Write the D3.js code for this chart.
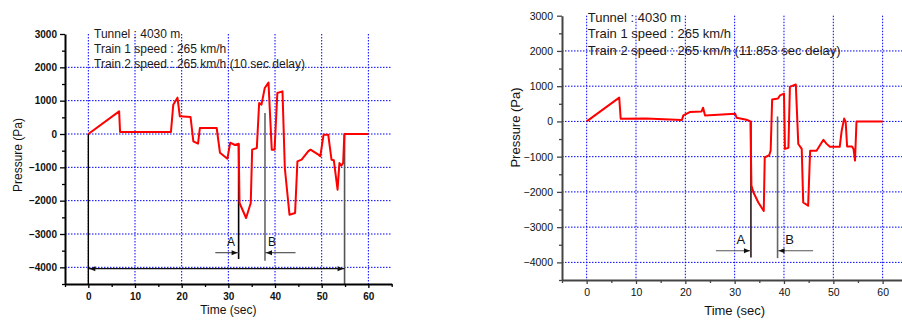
<!DOCTYPE html>
<html>
<head>
<meta charset="utf-8">
<script src="https://cdn.jsdelivr.net/npm/d3@7"></script>
<style>
  html, body { margin: 0; padding: 0; background: #fff; }
  svg { display: block; }
</style>
</head>
<body>
<div id="chart"></div>
<script>
// two pressure-time traces, Origin style, side by side

const timeTicks = [0, 10, 20, 30, 40, 50, 60];
const timeMinorTicks = [-5, 5, 15, 25, 35, 45, 55, 65];
const pressureTicks = [-4000, -3000, -2000, -1000, 0, 1000, 2000, 3000];
const pressureMinorTicks = [-4500, -3500, -2500, -1500, -500, 500, 1500, 2500];
const timeDomain = [-5, 65];
const pressureDomain = [-4500, 3000];

// left chart: 10 sec delay
const leftTime = [0, 6.6, 6.8, 17.7, 18.2, 19.1, 19.6, 21.9, 22.5, 23.5, 23.9, 27.5, 28.2, 29.8, 30.4, 31.4, 32.2,
  32.4, 33.8, 34.8, 35.1, 36.1, 36.6, 37.1, 37.8, 38.6, 39.3, 39.9, 40.5, 41.6, 42.1, 43.1, 44.3, 44.8, 45.7,
  47.1, 47.6, 49.3, 49.7, 50.4, 51.4, 52.1, 52.6, 53.4, 53.8, 54.2, 54.6, 54.85, 60];
const leftPressure = [0, 680, 60, 60, 880, 1090, 530, 510, -220, -290, 180, 180, -560, -740, -260, -330, -290,
  -2070, -2520, -2070, -470, -420, 930, 880, 1380, 1540, -470, -470, 1230, 1280, -1020, -2420, -2370, -820, -770,
  -520, -470, -620, -670, -20, -20, -770, -790, -1670, -870, -950, -870, 0, 0];
const leftNotes = ['Tunnel : 4030 m', 'Train 1 speed : 265 km/h', 'Train 2 speed : 265 km/h (10 sec delay)'];
const leftMarkers = [
  { label: 'A', time: 32.2, top: -290, bottom: -3750, arrowFrom: 27.2, arrowAt: -3560 },
  { label: 'B', time: 37.85, top: 630, bottom: -3800, arrowFrom: 44.4, arrowAt: -3560 }
];
const leftSpan = { from: 0, to: 54.9, top: 0, at: -4040 };

// right chart: 11.853 sec delay
const rightTime = [0, 6.6, 6.9, 12, 19.3, 19.6, 20.9, 23.3, 23.6, 24.0, 30.1, 30.4, 32.4, 33.2, 33.4, 33.8, 34.8,
  35.9, 36.1, 37.0, 37.3, 37.6, 38.8, 39.2, 40.0, 40.2, 40.9, 41.2, 42.4, 42.9, 43.6, 43.9, 44.9, 45.3, 46.6,
  48.0, 48.6, 49.3, 51.3, 51.7, 52.2, 52.5, 52.8, 53.8, 54.1, 54.4, 54.7, 60];
const rightPressure = [0, 675, 77, 80, 40, 170, 265, 285, 390, 170, 220, 105, 48, 0, -1820, -2010, -2300,
  -2540, -1020, -960, -830, 620, 650, 740, 790, -780, -750, 980, 1050, -640, -780, -2300, -2390, -830, -830,
  -520, -630, -720, -720, -260, 80, 0, -710, -710, -780, -1110, 0, 0];
const rightNotes = ['Tunnel : 4030 m', 'Train 1 speed : 265 km/h', 'Train 2 speed : 265 km/h (11.853 sec delay)'];
const rightMarkers = [
  { label: 'A', time: 33.3, top: 0, bottom: -3860, arrowFrom: 26.2, arrowAt: -3670 },
  { label: 'B', time: 38.7, top: 140, bottom: -3880, arrowFrom: 45.9, arrowAt: -3670 }
];

const svg = d3.select('#chart').append('svg')
  .attr('width', 902)
  .attr('height', 322)
  .attr('font-family', '"Liberation Sans", Arial, sans-serif');

function arrowHead(g, px, py, dir, color) {
  // dir 1 points right, -1 points left
  g.append('path')
    .attr('d', `M${px},${py} L${px - dir * 6},${py - 2.5} L${px - dir * 6},${py + 2.5} Z`)
    .attr('fill', color);
}

function drawPanel(cfg) {
  const x = d3.scaleLinear().domain(timeDomain).range([cfg.left, cfg.right]);
  const y = d3.scaleLinear().domain(pressureDomain).range([cfg.bottom, cfg.top]);
  const g = svg.append('g');

  // dotted blue grid
  g.selectAll('.hgrid')
    .data(pressureTicks.filter(v => v < 3000))
    .enter().append('line')
    .attr('x1', cfg.left).attr('x2', cfg.right)
    .attr('y1', d => y(d)).attr('y2', d => y(d))
    .attr('stroke', '#0000ff').attr('stroke-width', 1).attr('stroke-dasharray', '1.5,1.5');
  g.selectAll('.vgrid')
    .data(timeTicks)
    .enter().append('line')
    .attr('x1', d => x(d)).attr('x2', d => x(d))
    .attr('y1', cfg.top).attr('y2', cfg.bottom)
    .attr('stroke', '#0000ff').attr('stroke-width', 1).attr('stroke-dasharray', '1.5,1.5');

  // A / B markers
  cfg.markers.forEach((m, i) => {
    const lineColor = i === 0 ? cfg.aColor : '#666';
    g.append('line')
      .attr('x1', x(m.time)).attr('x2', x(m.time))
      .attr('y1', y(m.top)).attr('y2', y(m.bottom))
      .attr('stroke', lineColor).attr('stroke-width', 1.6);
    g.append('line')
      .attr('x1', x(m.arrowFrom)).attr('x2', x(m.time))
      .attr('y1', y(m.arrowAt)).attr('y2', y(m.arrowAt))
      .attr('stroke', '#555').attr('stroke-width', 1.2);
    const dir = m.arrowFrom < m.time ? 1 : -1;
    arrowHead(g, x(m.time) - dir * 1, y(m.arrowAt), dir, '#111');
    g.append('text')
      .attr('x', x(m.time) + (dir === 1 ? cfg.labelA : cfg.labelB))
      .attr('y', y(m.arrowAt) - cfg.labelLift)
      .attr('text-anchor', 'middle')
      .attr('font-size', cfg.markFont)
      .attr('fill', '#111')
      .text(m.label);
  });

  // tunnel span with double arrow
  if (cfg.span) {
    const s = cfg.span;
    g.append('line')
      .attr('x1', x(s.from)).attr('x2', x(s.from))
      .attr('y1', y(s.top)).attr('y2', cfg.bottom)
      .attr('stroke', '#000').attr('stroke-width', 1.4);
    g.append('line')
      .attr('x1', x(s.to)).attr('x2', x(s.to))
      .attr('y1', y(s.top)).attr('y2', cfg.bottom)
      .attr('stroke', '#555').attr('stroke-width', 1.6);
    g.append('line')
      .attr('x1', x(s.from)).attr('x2', x(s.to))
      .attr('y1', y(s.at)).attr('y2', y(s.at))
      .attr('stroke', '#111').attr('stroke-width', 1.2);
    arrowHead(g, x(s.from) + 1, y(s.at), -1, '#111');
    arrowHead(g, x(s.to) - 1, y(s.at), 1, '#111');
  }

  // pressure trace
  const line = d3.line()
    .x(d => x(d[0]))
    .y(d => y(d[1]));
  g.append('path')
    .datum(d3.zip(cfg.time, cfg.pressure))
    .attr('d', line)
    .attr('fill', 'none')
    .attr('stroke', '#ff0000')
    .attr('stroke-width', 2)
    .attr('stroke-linejoin', 'round');

  // axes
  const axisColor = cfg.axisColor;
  const fmt = d3.format('d');
  const yMinor = g.append('g')
    .attr('transform', `translate(${cfg.left},0)`)
    .call(d3.axisLeft(y).tickValues(pressureMinorTicks).tickSize(3).tickSizeOuter(0).tickFormat(''));
  yMinor.select('.domain').remove();
  const yMajor = g.append('g')
    .attr('transform', `translate(${cfg.left},0)`)
    .call(d3.axisLeft(y).tickValues(pressureTicks).tickSize(5).tickSizeOuter(0).tickPadding(cfg.yPad).tickFormat(fmt));
  const xMinor = g.append('g')
    .attr('transform', `translate(0,${cfg.bottom})`)
    .call(d3.axisBottom(x).tickValues(timeMinorTicks).tickSize(3).tickSizeOuter(0).tickFormat(''));
  xMinor.select('.domain').remove();
  const xMajor = g.append('g')
    .attr('transform', `translate(0,${cfg.bottom})`)
    .call(d3.axisBottom(x).tickValues(timeTicks).tickSize(4).tickSizeOuter(0).tickPadding(cfg.xPad).tickFormat(fmt));

  [yMinor, yMajor, xMinor, xMajor].forEach(a => {
    a.selectAll('line').attr('stroke', axisColor).attr('stroke-width', 1.3);
    a.selectAll('.domain').attr('stroke', axisColor).attr('stroke-width', 2);
    a.selectAll('text')
      .attr('font-family', '"Liberation Sans", Arial, sans-serif')
      .attr('font-size', cfg.tickFont)
      .attr('font-weight', cfg.tickWeight)
      .attr('fill', '#111');
  });

  // axis titles
  g.append('text')
    .attr('x', x(30))
    .attr('y', cfg.bottom + cfg.xTitleGap)
    .attr('text-anchor', 'middle')
    .attr('font-size', cfg.titleFont)
    .attr('fill', '#111')
    .text('Time (sec)');
  g.append('text')
    .attr('transform', `translate(${cfg.yTitleX},${cfg.yTitleY}) rotate(-90)`)
    .attr('text-anchor', 'middle')
    .attr('font-size', cfg.titleFont)
    .attr('fill', '#111')
    .text('Pressure (Pa)');

  // notes
  cfg.notes.forEach((t, i) => {
    g.append('text')
      .attr('x', cfg.noteX)
      .attr('y', cfg.noteY + i * cfg.noteStep)
      .attr('font-size', cfg.noteFont)
      .attr('fill', '#1a1a1a')
      .text(t);
  });
}

drawPanel({
  left: 65, right: 391.7, top: 34, bottom: 284,
  time: leftTime, pressure: leftPressure, notes: leftNotes, markers: leftMarkers, span: leftSpan,
  aColor: '#000', axisColor: '#000', tickFont: 10, tickWeight: 'bold', yPad: 3, xPad: 4.4,
  titleFont: 12, xTitleGap: 29.5, yTitleX: 21.5, yTitleY: 155,
  noteX: 94, noteY: 37.7, noteStep: 15, noteFont: 12,
  markFont: 12, labelA: -7.7, labelB: 7, labelLift: 7
});

drawPanel({
  left: 562, right: 907.3, top: 15.7, bottom: 280,
  time: rightTime, pressure: rightPressure, notes: rightNotes, markers: rightMarkers, span: null,
  aColor: '#2a1a1a', axisColor: '#444', tickFont: 10.5, tickWeight: 'normal', yPad: 4, xPad: 5,
  titleFont: 13, xTitleGap: 35, yTitleX: 520, yTitleY: 127.5,
  noteX: 587.7, noteY: 21.7, noteStep: 16.4, noteFont: 13,
  markFont: 13, labelA: -10, labelB: 12, labelLift: 6.5
});
</script>
</body>
</html>
